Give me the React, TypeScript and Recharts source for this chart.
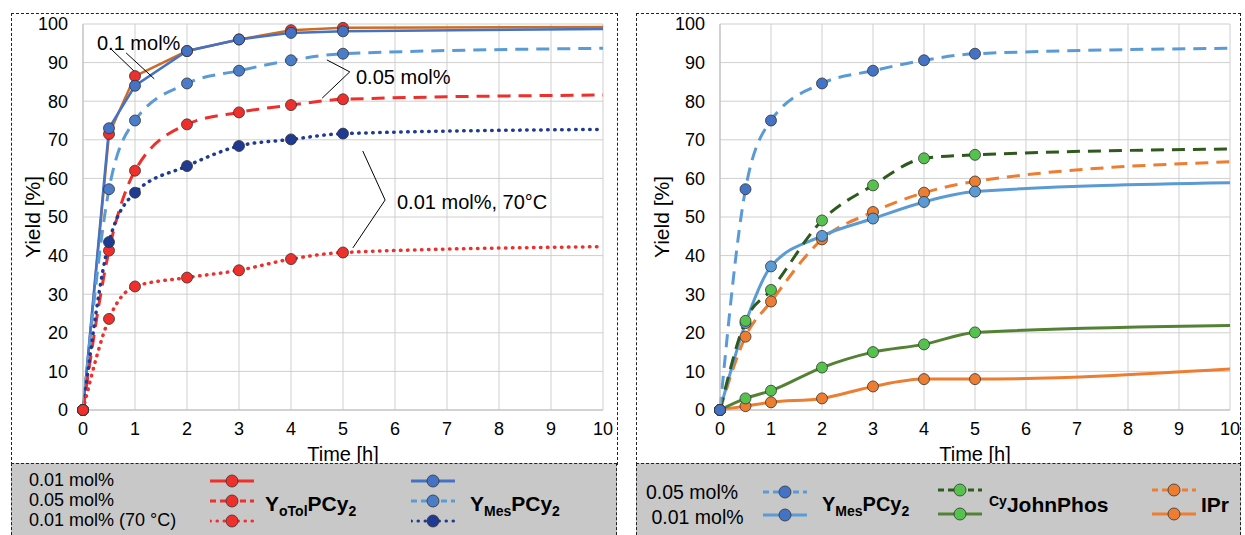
import React from 'react';
import { LineChart, Line, XAxis, YAxis, CartesianGrid, ReferenceLine } from 'recharts';

// sampling times [h] shared by every series
const times = [0, 0.5, 1, 2, 3, 4, 5, 10];
const xTicks = [0, 1, 2, 3, 4, 5, 6, 7, 8, 9, 10];
const yTicks = [0, 10, 20, 30, 40, 50, 60, 70, 80, 90, 100];

// left panel: YoTolPCy2 vs YMesPCy2
const oTol01 = [0, 71.5, 86.5, 93, 96, 98.4, 99, 99.2];
const mes01 = [0, 73, 84, 93, 96, 97.7, 98.1, 98.7];
const mes005 = [0, 57.2, 75, 84.6, 87.9, 90.6, 92.3, 93.7];
const oTol005 = [0, 41.3, 62, 74, 77.1, 79, 80.5, 81.6];
const mes001hot = [0, 43.5, 56.3, 63.2, 68.4, 70.1, 71.6, 72.7];
const oTol001hot = [0, 23.6, 32, 34.3, 36.2, 39.1, 40.8, 42.3];

// right panel: YMesPCy2, CyJohnPhos, IPr
const mesR005 = [0, 57.2, 75, 84.6, 87.9, 90.6, 92.3, 93.7];
const mesR001 = [0, 22.5, 37.2, 45.1, 49.6, 53.9, 56.6, 58.9];
const john005 = [0, 23.1, 31.1, 49.1, 58.2, 65.2, 66.1, 67.6];
const john001 = [0, 3, 5, 11, 15, 17, 20.1, 21.9];
const ipr005 = [0, 19, 28.1, 44.2, 51.3, 56.3, 59.2, 64.3];
const ipr001 = [0, 1, 2, 3, 6.1, 8, 8, 10.6];

const leftData = times.map((t, i) => ({
  t,
  oTol01: oTol01[i],
  mes01: mes01[i],
  mes005: mes005[i],
  oTol005: oTol005[i],
  mes001hot: mes001hot[i],
  oTol001hot: oTol001hot[i],
}));

const rightData = times.map((t, i) => ({
  t,
  mesR005: mesR005[i],
  mesR001: mesR001[i],
  john005: john005[i],
  john001: john001[i],
  ipr005: ipr005[i],
  ipr001: ipr001[i],
}));

const FONT = '"Liberation Sans", Arial, sans-serif';
const RED = '#ee2f2b';
const BROWN = '#cd6d25';
const BLUE = '#4472c4';
const LBLUE = '#5b9bd5';
const NAVY = '#1f3a93';
const DGREEN = '#2f5a1d';
const GREEN = '#548235';
const LGREEN = '#55c24e';
const ORANGE = '#ed7d31';

const DASH = '13 8';
const DOT = '0.5 6.5';

// markers only at measured points (t <= 5)
const makeDot = (fill: string, id: string) => (props: any) => {
  const { cx, cy, payload, index } = props;
  if (cx == null || cy == null || payload.t > 5) return <g key={`${id}-${index}`} />;
  return <circle key={`${id}-${index}`} cx={cx} cy={cy} r={5.5} fill={fill} stroke="#333" strokeWidth={0.8} />;
};

const tickStyle = { fontSize: 18, fill: '#000', fontFamily: FONT };

const Glyph = ({ color, dot, dash, width = 44 }: { color: string; dot: string; dash?: string; width?: number }) => (
  <svg width={width} height={16} style={{ display: 'block' }}>
    <line x1={0} y1={8} x2={width} y2={8} stroke={color} strokeWidth={3}
      strokeDasharray={dash} strokeLinecap={dash === DOT ? 'round' : 'butt'} />
    <circle cx={width / 2} cy={8} r={6} fill={dot} stroke="#333" strokeWidth={0.8} />
  </svg>
);

const abs = (left: number, top: number, extra: React.CSSProperties = {}): React.CSSProperties => ({
  position: 'absolute', left, top, ...extra,
});

const dashedBox = (left: number, top: number, width: number, height: number, bg = 'transparent'): React.CSSProperties => ({
  position: 'absolute', left, top, width, height, boxSizing: 'border-box',
  border: '1.5px dashed #222', borderBottom: 'none', background: bg,
});

const axisParts = (yLabelOffset: number) => (
  <>
    <CartesianGrid stroke="#cfcfcf" strokeWidth={1} />
    <XAxis dataKey="t" type="number" domain={[0, 10]} ticks={xTicks} tick={tickStyle} height={45}
      tickSize={0} tickMargin={12} axisLine={{ stroke: '#bdbdbd' }}
      label={{ value: 'Time [h]', position: 'insideBottom', offset: -6, style: { fontSize: 20, fill: '#000', fontFamily: FONT } }} />
    <YAxis type="number" domain={[0, 100]} ticks={yTicks} tick={tickStyle} tickSize={0} tickMargin={15}
      axisLine={{ stroke: '#bdbdbd' }} width={83}
      label={{ value: 'Yield [%]', angle: -90, position: 'insideLeft', offset: yLabelOffset,
        style: { textAnchor: 'middle', fontSize: 21, fill: '#000', fontFamily: FONT } }} />
  </>
);

const annot = { stroke: '#000', strokeWidth: 1 };
const txt: React.CSSProperties = { fontSize: 20, fontFamily: FONT, lineHeight: '24px', whiteSpace: 'nowrap' };
const bold: React.CSSProperties = { fontSize: 21, fontWeight: 'bold', fontFamily: FONT, whiteSpace: 'nowrap' };
const sub: React.CSSProperties = { fontSize: 14, verticalAlign: -5 };

export default function App() {
  return (
    <div style={{ position: 'absolute', left: 0, top: 0, width: 1245, height: 535, overflow: 'hidden', background: '#fff', fontFamily: FONT }}>
      <div style={dashedBox(11, 13, 607, 452)} />
      <div style={dashedBox(636, 13, 605, 452)} />

      <div style={abs(0, 0)}>
        <LineChart width={620} height={465} data={leftData} margin={{ top: 24, right: 17, left: 0, bottom: 10 }}>
          {axisParts(33)}
          <Line type="linear" dataKey="oTol01" stroke={BROWN} strokeWidth={2.5} dot={makeDot(RED, 'a')} isAnimationActive={false} />
          <Line type="linear" dataKey="mes01" stroke={BLUE} strokeWidth={2.5} dot={makeDot(BLUE, 'b')} isAnimationActive={false} />
          <Line type="monotone" dataKey="mes005" stroke={LBLUE} strokeWidth={3} strokeDasharray={DASH} dot={makeDot('#4a7cc8', 'c')} isAnimationActive={false} />
          <Line type="monotone" dataKey="oTol005" stroke={RED} strokeWidth={3} strokeDasharray={DASH} dot={makeDot(RED, 'd')} isAnimationActive={false} />
          <Line type="monotone" dataKey="mes001hot" stroke={NAVY} strokeWidth={3.5} strokeDasharray={DOT} strokeLinecap="round" dot={makeDot(NAVY, 'e')} isAnimationActive={false} />
          <Line type="monotone" dataKey="oTol001hot" stroke={RED} strokeWidth={3.5} strokeDasharray={DOT} strokeLinecap="round" dot={makeDot(RED, 'f')} isAnimationActive={false} />
          <ReferenceLine segment={[{ x: 0.54, y: 93.5 }, { x: 1.02, y: 87.3 }]} {...annot} />
          <ReferenceLine segment={[{ x: 0.83, y: 92.5 }, { x: 1.37, y: 85.8 }]} {...annot} />
          <ReferenceLine segment={[{ x: 5.13, y: 87.6 }, { x: 4.69, y: 90.7 }]} {...annot} />
          <ReferenceLine segment={[{ x: 5.13, y: 87.6 }, { x: 4.6, y: 80.8 }]} {...annot} />
          <ReferenceLine segment={[{ x: 5.81, y: 54.4 }, { x: 5.38, y: 67.1 }]} {...annot} />
          <ReferenceLine segment={[{ x: 5.81, y: 54.4 }, { x: 5.19, y: 42 }]} {...annot} />
        </LineChart>
      </div>
      <div style={abs(97, 31, txt)}>0.1 mol%</div>
      <div style={abs(356, 65, txt)}>0.05 mol%</div>
      <div style={abs(397, 190, txt)}>0.01 mol%, 70°C</div>

      <div style={abs(636, 0)}>
        <LineChart width={609} height={465} data={rightData} margin={{ top: 24, right: 15, left: 1, bottom: 10 }}>
          {axisParts(25)}
          <Line type="monotone" dataKey="ipr001" stroke={ORANGE} strokeWidth={3} dot={makeDot(ORANGE, 'g')} isAnimationActive={false} />
          <Line type="monotone" dataKey="john001" stroke={GREEN} strokeWidth={3} dot={makeDot(LGREEN, 'h')} isAnimationActive={false} />
          <Line type="monotone" dataKey="ipr005" stroke={ORANGE} strokeWidth={3} strokeDasharray={DASH} dot={makeDot(ORANGE, 'i')} isAnimationActive={false} />
          <Line type="monotone" dataKey="mesR001" stroke={LBLUE} strokeWidth={3} dot={makeDot(LBLUE, 'j')} isAnimationActive={false} />
          <Line type="monotone" dataKey="john005" stroke={DGREEN} strokeWidth={3} strokeDasharray={DASH} dot={makeDot(LGREEN, 'k')} isAnimationActive={false} />
          <Line type="monotone" dataKey="mesR005" stroke={LBLUE} strokeWidth={3} strokeDasharray={DASH} dot={makeDot(BLUE, 'l')} isAnimationActive={false} />
        </LineChart>
      </div>

      {/* left legend */}
      <div style={dashedBox(11, 463, 606, 72, '#c8c8c8')}>
        <div style={abs(17, 6, { ...txt, fontSize: 18, lineHeight: '20px' })}>
          0.01 mol%<br />0.05 mol%<br />0.01 mol% (70 °C)
        </div>
        <div style={abs(198, 9)}><Glyph color={RED} dot={RED} /></div>
        <div style={abs(198, 29)}><Glyph color={RED} dot={RED} dash="6 4" /></div>
        <div style={abs(198, 49)}><Glyph color={RED} dot={RED} dash={DOT} /></div>
        <div style={abs(253, 28, bold)}>Y<span style={sub}>oTol</span>PCy<span style={sub}>2</span></div>
        <div style={abs(399, 9)}><Glyph color={BLUE} dot={BLUE} /></div>
        <div style={abs(399, 29)}><Glyph color={LBLUE} dot="#4a7cc8" dash="6 4" /></div>
        <div style={abs(399, 49)}><Glyph color={NAVY} dot={NAVY} dash={DOT} /></div>
        <div style={abs(458, 28, bold)}>Y<span style={sub}>Mes</span>PCy<span style={sub}>2</span></div>
      </div>

      {/* right legend */}
      <div style={dashedBox(636, 463, 605, 72, '#c8c8c8')}>
        <div style={abs(9, 16, { ...txt, fontSize: 19.5, lineHeight: '25px' })}>
          0.05 mol%<br />&nbsp;0.01 mol%
        </div>
        <div style={abs(126, 20)}><Glyph color={LBLUE} dot={BLUE} dash="6 4" /></div>
        <div style={abs(126, 43)}><Glyph color={LBLUE} dot={BLUE} /></div>
        <div style={abs(185, 29, { ...bold, fontSize: 20 })}>Y<span style={sub}>Mes</span>PCy<span style={sub}>2</span></div>
        <div style={abs(301, 18)}><Glyph color={DGREEN} dot={LGREEN} dash="6 4" /></div>
        <div style={abs(301, 42)}><Glyph color={GREEN} dot={LGREEN} /></div>
        <div style={abs(352, 29, bold)}><span style={{ fontSize: 14, verticalAlign: 6 }}>Cy</span>JohnPhos</div>
        <div style={abs(515, 18)}><Glyph color={ORANGE} dot={ORANGE} dash="6 4" /></div>
        <div style={abs(515, 42)}><Glyph color={ORANGE} dot={ORANGE} /></div>
        <div style={abs(564, 29, bold)}>IPr</div>
      </div>
    </div>
  );
}
